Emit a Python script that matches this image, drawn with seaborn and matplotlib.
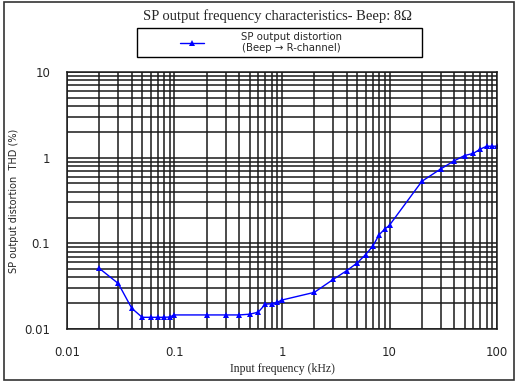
import matplotlib
matplotlib.use('Agg')
import matplotlib.pyplot as plt
import seaborn as sns
import pandas as pd
from matplotlib.ticker import LogLocator, FixedLocator, FixedFormatter, NullFormatter

# values
freq_khz = [0.02, 0.03, 0.04, 0.05, 0.06, 0.07, 0.08, 0.09, 0.1,
            0.2, 0.3, 0.4, 0.5, 0.6, 0.7, 0.8, 0.9, 1,
            2, 3, 4, 5, 6, 7, 8, 9, 10,
            20, 30, 40, 50, 60, 70, 80, 90, 100]
thd_pct = [0.051, 0.034, 0.0175, 0.0137, 0.0137, 0.0137, 0.0137, 0.0138, 0.0146,
           0.0146, 0.0146, 0.0146, 0.0149, 0.0157, 0.0195, 0.0197, 0.0205, 0.0218,
           0.0268, 0.038, 0.048, 0.059, 0.074, 0.093, 0.126, 0.146, 0.163,
           0.53, 0.74, 0.92, 1.06, 1.12, 1.26, 1.36, 1.36, 1.36]
x_ticks = [0.01, 0.1, 1, 10, 100]
x_tick_labels = ['0.01', '0.1', '1', '10', '100']
y_ticks = [0.01, 0.1, 1, 10]
y_tick_labels = ['0.01', '0.1', '1', '10']
series_label = 'SP output distortion\n(Beep \u2192 R-channel)'

df = pd.DataFrame({'freq': freq_khz, 'thd': thd_pct, 'series': series_label})

sns.set_style('white')
plt.rcParams['font.family'] = ['DejaVu Sans']

fig = plt.figure(figsize=(5.18, 3.82), dpi=100)
ax = fig.add_axes([0.1293, 0.1387, 0.8302, 0.6728])

sns.lineplot(data=df, x='freq', y='thd', hue='series', palette=['#0000ff'],
             marker='^', markersize=5, markeredgewidth=0, linewidth=1,
             ax=ax, legend=True)

ax.set_xscale('log')
ax.set_yscale('log')
ax.set_xlim(0.01, 100)
ax.set_ylim(0.01, 10)

ax.xaxis.set_major_locator(FixedLocator(x_ticks))
ax.xaxis.set_major_formatter(FixedFormatter(x_tick_labels))
ax.yaxis.set_major_locator(FixedLocator(y_ticks))
ax.yaxis.set_major_formatter(FixedFormatter(y_tick_labels))
ax.xaxis.set_minor_locator(LogLocator(base=10, subs=range(2, 10)))
ax.yaxis.set_minor_locator(LogLocator(base=10, subs=range(2, 10)))
ax.xaxis.set_minor_formatter(NullFormatter())
ax.yaxis.set_minor_formatter(NullFormatter())

ax.grid(True, which='both', color='#1a1a1a', linewidth=1.1)
ax.set_axisbelow(True)
ax.tick_params(which='both', length=0, labelsize=8.5, pad=12)
for s in ax.spines.values():
    s.set_color('#1a1a1a')
    s.set_linewidth(1.1)

ax.set_xlabel('Input frequency (kHz)', family='Liberation Serif', fontsize=8.5, labelpad=3)
ax.set_ylabel('SP output distortion  THD (%)', fontsize=7, labelpad=4)

fig.text(0.535, 0.958, 'SP output frequency characteristics- Beep: 8\u03a9',
         ha='center', va='center', family='Liberation Serif', fontsize=10.5)

# legend content without its own frame, box drawn separately
leg = ax.legend(loc='center', bbox_to_anchor=(0.504, 0.8887),
                bbox_transform=fig.transFigure, frameon=False,
                fontsize=7.3, handlelength=2.4, handletextpad=3.6,
                borderpad=0, borderaxespad=0)
for t in leg.get_texts():
    t.set_multialignment('center')
fig.add_artist(plt.Rectangle((137 / 518, 1 - 57 / 382), 285 / 518, 29 / 382,
                             transform=fig.transFigure, fill=False,
                             edgecolor='black', linewidth=1.0))

# outer frame around the whole figure
fig.add_artist(plt.Rectangle((0.008, 0.004), 0.984, 0.992, transform=fig.transFigure,
                             fill=False, edgecolor='#333333', linewidth=1.2))

fig.savefig('out.png', dpi=100)
